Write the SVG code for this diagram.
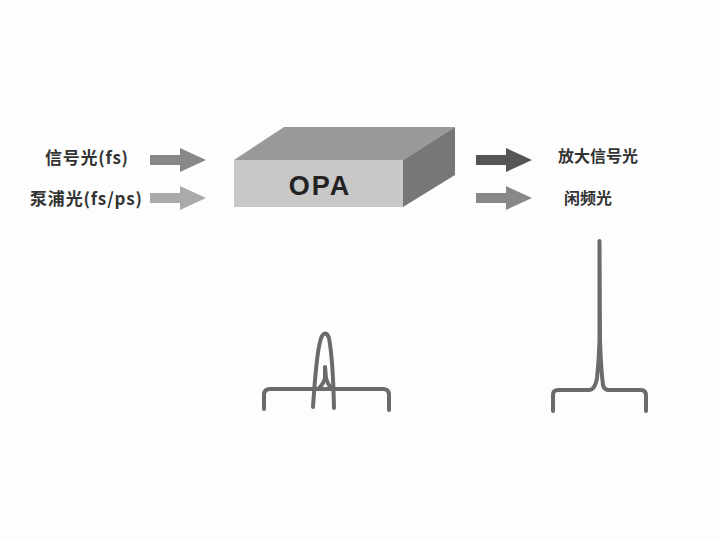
<svg xmlns="http://www.w3.org/2000/svg" width="720" height="540" viewBox="0 0 720 540">
<style>
.t{font-family:"Noto Sans CJK SC","Liberation Sans",sans-serif;font-size:16px;font-weight:bold;fill:#333}
.l{font-size:17px}
.s{fill:none;stroke:#6b6b6b;stroke-width:4;stroke-linecap:round;stroke-linejoin:round}
</style>
<rect width="720" height="540" fill="#fdfdfd"/>
<g id="opa">
<polygon points="234,160 284,127 455,127 403,160" fill="#999"/>
<polygon points="403,160 455,127 455,175 403,207" fill="#777"/>
<rect x="234" y="160" width="169" height="47" fill="#c8c8c8"/>
<text x="320" y="195" text-anchor="middle" font-family="Liberation Sans,sans-serif" font-size="27" font-weight="bold" fill="#222" letter-spacing="2">OPA</text>
</g>
<g id="labels">
<text class="t l" x="45" y="164" textLength="83">信号光(fs)</text>
<text class="t l" x="30" y="205" textLength="112">泵浦光(fs/ps)</text>
<text class="t" x="558" y="162">放大信号光</text>
<text class="t" x="564" y="204">闲频光</text>
</g>
<g id="connectors">
<polygon points="150,155 180,155 180,148 206,160 180,172 180,165 150,165" fill="#888"/>
<polygon points="150,193 180,193 180,186 206,198 180,210 180,203 150,203" fill="#aaa"/>
<polygon points="476,155 506,155 506,148 532,160 506,172 506,165 476,165" fill="#555"/>
<polygon points="476,193 506,193 506,186 532,198 506,210 506,203 476,203" fill="#888"/>
</g>
<g id="spectra">
<path class="s" d="M264,409 L264,395 Q264,389 270,389 L383,389 Q389,389 389,395 L389,410"/>
<path class="s" d="M313,407 Q317,345 322,336 Q326,330 329,338 Q333,360 334,408"/>
<path class="s" d="M318,389 Q323,385 325,378 L325,367 L326,378 Q328,385 332,389"/>
<path class="s" d="M553,411 L553,395 Q553,390 558,390 L589,390 Q595,390 597,378 Q599,360 599.5,340 L599.5,241 L600,340 Q601,370 603,385 Q604,390 609,390 L641,390 Q646,390 646,396 L646,411"/>
</g>
</svg>
